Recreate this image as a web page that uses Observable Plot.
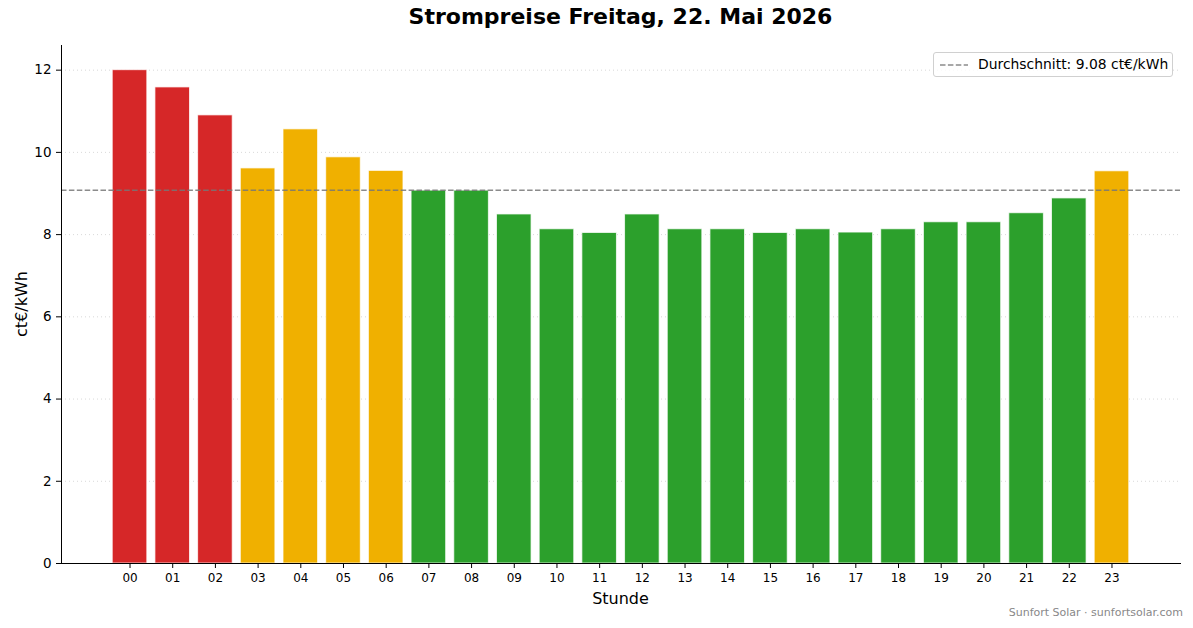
<!DOCTYPE html>
<html>
<head>
<meta charset="utf-8">
<script src="https://cdn.jsdelivr.net/npm/d3@7"></script>
<script src="https://cdn.jsdelivr.net/npm/@observablehq/plot@0.6"></script>
<style>
  html, body { margin: 0; padding: 0; background: #fff; }
  body { width: 1193px; height: 628px; position: relative; overflow: hidden; font-family: "DejaVu Sans", sans-serif; }
  #chart { position: absolute; left: 0; top: 0; }
  .title { position: absolute; left: 61px; width: 1119px; top: 4px; text-align: center; font-weight: bold; font-size: 22px; color: #000; }
  .ylabel { position: absolute; left: 21px; top: 304px; transform: translate(-50%, -50%) rotate(-90deg); font-size: 16px; white-space: nowrap; }
  .xlabel { position: absolute; left: 61px; width: 1119px; top: 589px; text-align: center; font-size: 16px; }
  .caption { position: absolute; right: 10px; top: 606px; font-size: 11px; color: #888; }
  .legend { position: absolute; left: 933px; top: 52px; width: 238px; height: 23px; border: 1px solid #d0d0d0; border-radius: 3px; background: rgba(255,255,255,0.8); font-size: 13.9px; }
  .legend svg { position: absolute; left: 5px; top: 6px; }
  .legend span { position: absolute; left: 44px; top: 3px; white-space: nowrap; }
</style>
</head>
<body>
<div id="chart"></div>
<div class="title">Strompreise Freitag, 22. Mai 2026</div>
<div class="ylabel">ct€/kWh</div>
<div class="xlabel">Stunde</div>
<div class="caption">Sunfort Solar · sunfortsolar.com</div>
<div class="legend" id="legend"></div>
<script>
const hours = ["00","01","02","03","04","05","06","07","08","09","10","11","12","13","14","15","16","17","18","19","20","21","22","23"];
const prices = [12.00, 11.58, 10.90, 9.61, 10.56, 9.88, 9.55, 9.07, 9.07, 8.49, 8.13, 8.04, 8.49, 8.13, 8.13, 8.04, 8.13, 8.05, 8.13, 8.30, 8.30, 8.52, 8.88, 9.54];
const levels = ["hoch","hoch","hoch","mittel","mittel","mittel","mittel","niedrig","niedrig","niedrig","niedrig","niedrig","niedrig","niedrig","niedrig","niedrig","niedrig","niedrig","niedrig","niedrig","niedrig","niedrig","niedrig","mittel"];
const levelNames = ["hoch", "mittel", "niedrig"];
const levelColors = ["#d62728", "#f0b000", "#2ca02c"];
const average = 9.08;
const yTicks = [0, 2, 4, 6, 8, 10, 12];

const data = hours.map((h, i) => ({hour: h, price: prices[i], level: levels[i]}));

const chart = Plot.plot({
  width: 1193,
  height: 628,
  marginTop: 45,
  marginBottom: 65,
  marginLeft: 61,
  marginRight: 13,
  style: {fontFamily: "DejaVu Sans, sans-serif", background: "#fff", overflow: "visible"},
  x: {domain: hours, paddingInner: 0.19, paddingOuter: 1.2, round: false, label: null},
  y: {domain: [0, 12.6], label: null},
  color: {domain: levelNames, range: levelColors},
  marks: [
    Plot.gridY(yTicks, {stroke: "#cfcfcf", strokeOpacity: 1, strokeDasharray: "1,3", strokeWidth: 0.8}),
    Plot.barY(data, {x: "hour", y: "price", fill: "level", stroke: "#fff", strokeWidth: 1, strokeOpacity: 0.75}),
    Plot.ruleY([average], {stroke: "#777", strokeOpacity: 0.85, strokeWidth: 1.5, strokeDasharray: "5.5,2.4"}),
    Plot.frame({anchor: "bottom", stroke: "#000", strokeWidth: 1}),
    Plot.frame({anchor: "left", stroke: "#000", strokeWidth: 1}),
    Plot.axisY(yTicks, {tickSize: 5, tickPadding: 5, fontSize: 13.5, stroke: "#000", fill: "#000", label: null, tickFormat: d => String(d)}),
    Plot.axisX({tickSize: 5, tickPadding: 5, fontSize: 12, stroke: "#000", fill: "#000", label: null})
  ]
});
document.getElementById("chart").appendChild(chart);

const legend = document.getElementById("legend");
legend.innerHTML = `<svg width="30" height="12"><line x1="1" x2="29" y1="6" y2="6" stroke="#777" stroke-opacity="0.85" stroke-width="1.5" stroke-dasharray="5.5,2.4"></line></svg><span>Durchschnitt: ${average.toFixed(2)} ct€/kWh</span>`;
</script>
</body>
</html>
